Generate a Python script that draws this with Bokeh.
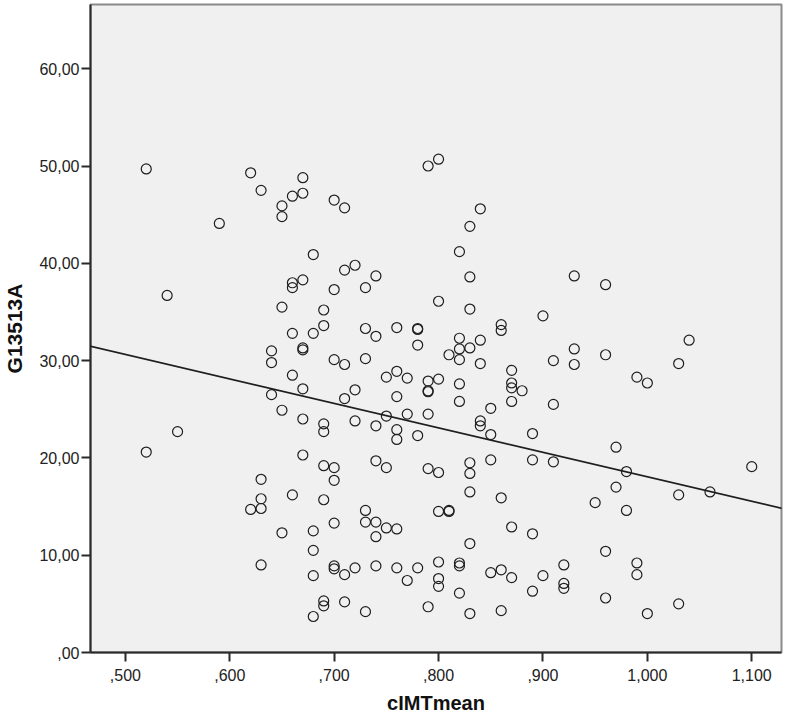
import numpy as np
from bokeh.plotting import figure
from bokeh.models import FixedTicker, Range1d, Slope
from bokeh.embed import file_html
from bokeh.resources import INLINE

# ---- data (cIMTmean, G13513A) ----
cimt_columns = [0.52, 0.54, 0.55, 0.59, 0.62, 0.63, 0.64, 0.65, 0.66, 0.67,
                0.68, 0.69, 0.70, 0.71, 0.72, 0.73, 0.74, 0.75, 0.76, 0.77,
                0.78, 0.79, 0.80, 0.81, 0.82, 0.83, 0.84, 0.85, 0.86, 0.87,
                0.88, 0.89, 0.90, 0.91, 0.92, 0.93, 0.95, 0.96, 0.97, 0.98,
                0.99, 1.00, 1.03, 1.04, 1.06, 1.10]
g13513a_by_column = [
    [49.7, 20.6],
    [36.7],
    [22.7],
    [44.1],
    [49.3, 14.7],
    [47.5, 17.8, 15.8, 14.8, 9.0],
    [31.0, 29.8, 26.5],
    [45.9, 44.8, 35.5, 24.9, 12.3],
    [46.9, 38.0, 37.5, 32.8, 28.5, 16.2],
    [48.8, 47.2, 38.3, 31.3, 31.1, 27.1, 24.0, 20.3],
    [40.9, 32.8, 12.5, 10.5, 7.9, 3.7],
    [35.2, 33.6, 23.5, 22.7, 19.2, 15.7, 5.3, 4.8],
    [46.5, 37.3, 30.1, 19.0, 17.7, 13.3, 8.9, 8.6],
    [45.7, 39.3, 29.6, 26.1, 8.0, 5.2],
    [39.8, 27.0, 23.8, 8.7],
    [37.5, 33.3, 30.2, 14.6, 13.4, 4.2],
    [38.7, 32.5, 23.3, 19.7, 13.4, 11.9, 8.9],
    [28.3, 24.3, 19.0, 12.8],
    [33.4, 28.9, 26.3, 22.9, 21.9, 12.7, 8.7],
    [28.2, 24.5, 7.4],
    [33.2, 33.3, 31.6, 22.3, 8.7],
    [50.0, 27.9, 26.8, 26.9, 24.5, 18.9, 4.7],
    [50.7, 36.1, 28.1, 18.5, 14.5, 9.3, 7.6, 6.8],
    [30.6, 14.5, 14.6],
    [41.2, 32.3, 31.2, 30.1, 27.6, 25.8, 9.2, 8.9, 6.1],
    [43.8, 38.6, 35.3, 31.3, 19.5, 18.4, 16.5, 11.2, 4.0],
    [45.6, 32.1, 29.7, 23.8, 23.3],
    [25.1, 22.4, 19.8, 8.2],
    [33.7, 33.1, 15.9, 8.5, 4.3],
    [29.0, 27.7, 27.2, 25.8, 12.9, 7.7],
    [26.9],
    [22.5, 19.8, 12.2, 6.3],
    [34.6, 7.9],
    [30.0, 25.5, 19.6],
    [9.0, 7.1, 6.6],
    [38.7, 31.2, 29.6],
    [15.4],
    [37.8, 30.6, 10.4, 5.6],
    [21.1, 17.0],
    [18.6, 14.6],
    [28.3, 9.2, 8.0],
    [27.7, 4.0],
    [29.7, 16.2, 5.0],
    [32.1],
    [16.5],
    [19.1],
]

x_ticks = [0.5, 0.6, 0.7, 0.8, 0.9, 1.0, 1.1]
x_tick_labels = [",500", ",600", ",700", ",800", ",900", "1,000", "1,100"]
y_ticks = [0, 10, 20, 30, 40, 50, 60]
y_tick_labels = [",00", "10,00", "20,00", "30,00", "40,00", "50,00", "60,00"]

x_title = "cIMTmean"
y_title = "G13513A"

# ---- build flat arrays ----
xs, ys = [], []
for cx, vals in zip(cimt_columns, g13513a_by_column):
    for v in vals:
        xs.append(cx)
        ys.append(v)
xs = np.array(xs)
ys = np.array(ys)
slope, intercept = np.polyfit(xs, ys, 1)

FONT = "Liberation Sans"

p = figure(width=783, height=716, output_backend="svg", toolbar_location=None,
           x_range=Range1d(0.4666, 1.1285), y_range=Range1d(0, 66.6),
           min_border_left=88, min_border_right=2, min_border_top=4,
           min_border_bottom=59)

p.background_fill_color = "#f0f0f0"
p.border_fill_color = "white"
p.outline_line_color = "#8a8a8a"
p.outline_line_width = 2
p.xgrid.visible = False
p.ygrid.visible = False

p.scatter(xs, ys, marker="circle", size=10, fill_color=None,
          line_color="#1e1e1e", line_width=1.2)

p.add_layout(Slope(gradient=slope, y_intercept=intercept,
                   line_color="#1e1e1e", line_width=1.6))

for ax, ticks, labels in ((p.xaxis, x_ticks, x_tick_labels),
                          (p.yaxis, y_ticks, y_tick_labels)):
    ax.ticker = FixedTicker(ticks=ticks)
    ax.major_label_overrides = {t: l for t, l in zip(ticks, labels)}
    ax.minor_tick_line_color = None
    ax.major_tick_in = 0
    ax.major_tick_out = 9
    ax.major_tick_line_color = "#2a2a2a"
    ax.major_tick_line_width = 2
    ax.axis_line_color = "#2a2a2a"
    ax.axis_line_width = 2
    ax.major_label_text_font = FONT
    ax.major_label_text_font_size = "16px"
    ax.major_label_text_color = "#222222"
    ax.axis_label_text_font = FONT
    ax.axis_label_text_font_style = "bold"
    ax.axis_label_text_color = "#111111"

p.xaxis.axis_label = x_title
p.yaxis.axis_label = y_title
p.xaxis.axis_label_text_font_size = "20px"
p.yaxis.axis_label_text_font_size = "21px"
p.xaxis.major_label_standoff = 7
p.yaxis.major_label_standoff = 2
p.xaxis.axis_label_standoff = 8
p.yaxis.axis_label_standoff = 10

open("out.html", "w").write(file_html(p, INLINE))
